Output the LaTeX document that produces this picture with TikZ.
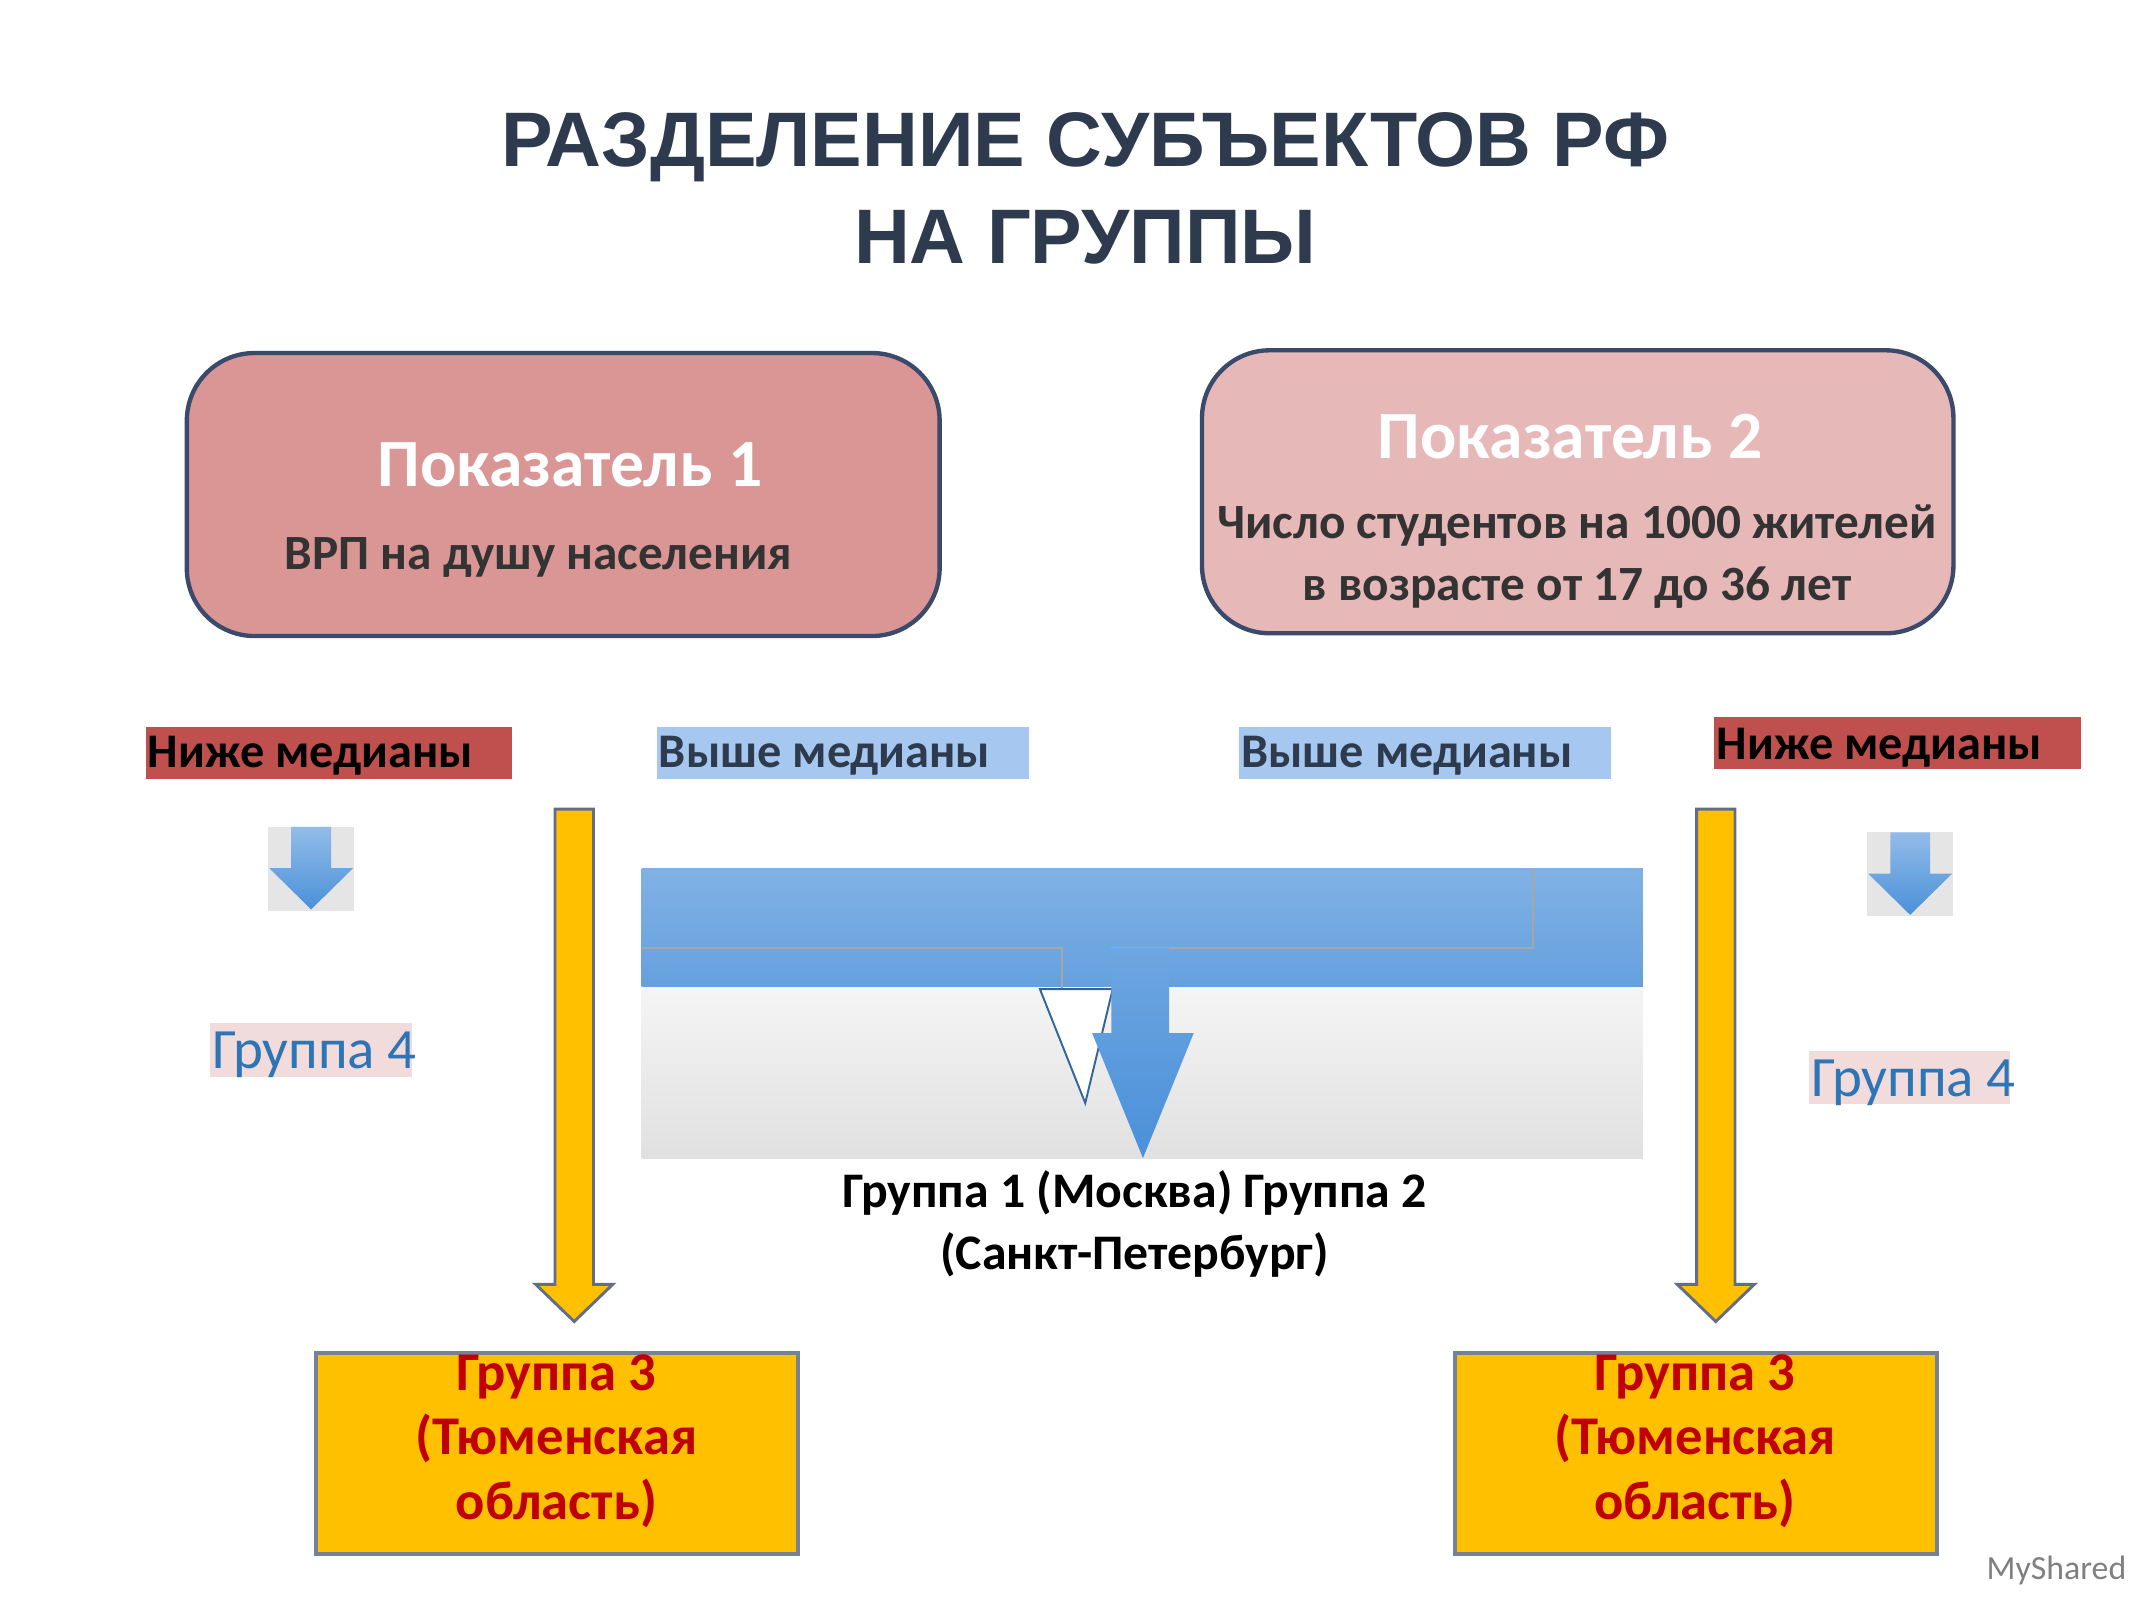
\documentclass[tikz,border=0pt]{standalone}
\usepackage{fontspec}
\setmainfont{Carlito}
\newfontfamily\titlefont{Liberation Sans}
\definecolor{ttl}{HTML}{2E3B4E}
\definecolor{pink1}{HTML}{D99694}
\definecolor{pink2}{HTML}{E6B8B7}
\definecolor{bord}{HTML}{3B4A6B}
\definecolor{redl}{HTML}{C0504D}
\definecolor{bluel}{HTML}{A6C8F0}
\definecolor{gold}{HTML}{FFC000}
\definecolor{darkred}{HTML}{C00000}
\definecolor{grp}{HTML}{2E75B6}
\definecolor{pinkbg}{HTML}{F2DCDB}
\definecolor{midblue}{HTML}{4A90D9}
\tikzset{
 ibox/.style={draw=bord,line width=0.9pt,rounded corners=14pt},
 lab/.style={font=\bfseries\fontsize{10}{12}\selectfont,anchor=west,inner sep=0pt},
 yarrow/.style={draw=bord!80,fill=gold,line width=0.6pt},
 gbox/.style={draw=bord!70,fill=gold,line width=0.8pt},
 gtext/.style={font=\bfseries\fontsize{11.3}{13.4}\selectfont,text=darkred,align=center},
}
\begin{document}
\begin{tikzpicture}[x=0.01cm,y=-0.01cm]
\useasboundingbox (0,0) rectangle (1552,1164);
\fill[white] (0,0) rectangle (1552,1164);
\node[font=\titlefont\bfseries\fontsize{16}{20}\selectfont,text=ttl,align=center] (title) at (790,137) {РАЗДЕЛЕНИЕ СУБЪЕКТОВ РФ\\НА ГРУППЫ};
% boxes
\draw[ibox,fill=pink1] (136,257) rectangle (684,463);
\node[font=\bfseries\fontsize{14}{17}\selectfont,text=white] (p1) at (415,338) {Показатель 1};
\node[font=\bfseries\fontsize{10.2}{12}\selectfont,text=black!80] (p1t) at (392,406) {ВРП на душу населения};
\draw[ibox,fill=pink2] (875,255) rectangle (1422,461);
\node[font=\bfseries\fontsize{14}{17}\selectfont,text=white] (p2) at (1143,318) {Показатель 2};
\node[font=\bfseries\fontsize{10.2}{12.8}\selectfont,text=black!80,align=center] (p2t) at (1148,405) {Число студентов на 1000 жителей\\в возрасте от 17 до 36 лет};
% labels
\fill[redl] (106,529) rectangle (373,567);
\node[lab] (l1) at (107,550) {Ниже медианы};
\fill[bluel] (478,529) rectangle (749,567);
\node[lab,text=ttl] (l2) at (479,550) {Выше медианы};
\fill[bluel] (902,529) rectangle (1173,567);
\node[lab,text=ttl] (l3) at (903,550) {Выше медианы};
\fill[redl] (1248,522) rectangle (1515,560);
\node[lab] (l4) at (1249,544) {Ниже медианы};
% small arrows
\foreach \x/\y in {195/602,1359/606}{
 \fill[black!10] (\x,\y) rectangle (\x+63,\y+61);
 \shade[top color=midblue!60,bottom color=midblue] (\x+17,\y) -- (\x+46,\y) -- (\x+46,\y+30) -- (\x+62,\y+30) -- (\x+31.5,\y+60) -- (\x+1,\y+30) -- (\x+17,\y+30) -- cycle;
}
% group 4
\fill[pinkbg] (153,745) rectangle (300,784);
\node[font=\fontsize{11.8}{14}\selectfont,text=grp,anchor=west,inner sep=0pt] (g4a) at (154,768) {Группа 4};
\fill[pinkbg] (1317,765) rectangle (1463,804);
\node[font=\fontsize{11.8}{14}\selectfont,text=grp,anchor=west,inner sep=0pt] (g4b) at (1318,788) {Группа 4};
% yellow arrows
\draw[yarrow] (404,589) -- (432,589) -- (432,935) -- (446,935) -- (418,962) -- (390,935) -- (404,935) -- cycle;
\draw[yarrow] (1235,589) -- (1263,589) -- (1263,935) -- (1277,935) -- (1249,962) -- (1221,935) -- (1235,935) -- cycle;
% middle
\shade[top color=black!4,bottom color=black!12] (467,718) rectangle (1196,843);
\shade[top color=midblue!70,bottom color=midblue!85] (467,632) rectangle (1196,718);
\draw[black!35,line width=0.4pt] (467,690) -- (773,690) -- (773,720);
\draw[black!35,line width=0.4pt] (809,690) -- (1116,690) -- (1116,632);
\draw[midblue!70!black,line width=0.4pt,fill=white] (757,720) -- (810,720) -- (790,803) -- cycle;
\shade[top color=midblue!80,bottom color=midblue] (809,690) -- (851,690) -- (851,752) -- (869,752) -- (832,843) -- (795,752) -- (809,752) -- cycle;
\node[font=\bfseries\fontsize{10.3}{13}\selectfont,align=center] (g12) at (826,891) {Группа 1 (Москва) Группа 2\\(Санкт-Петербург)};
% group 3
\draw[gbox] (230,985) rectangle (581,1131);
\node[gtext] (g3a) at (405,1049) {Группа 3\\(Тюменская\\область)};
\draw[gbox] (1059,985) rectangle (1410,1131);
\node[gtext] (g3b) at (1234,1049) {Группа 3\\(Тюменская\\область)};
\node[font=\fontsize{7}{9}\selectfont,text=black!50] (ms) at (1497,1143) {MyShared};
\end{tikzpicture}
\end{document}
